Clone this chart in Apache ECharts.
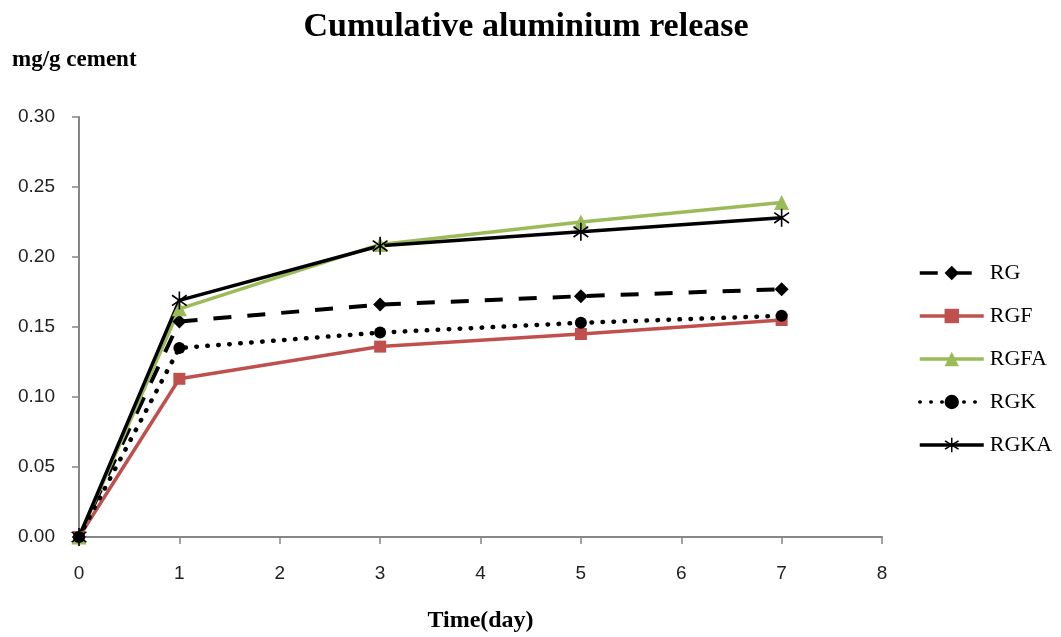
<!DOCTYPE html>
<html>
<head>
<meta charset="utf-8">
<style>
  html, body { margin: 0; padding: 0; background: #fff; }
  #chart { width: 1061px; height: 637px; }
</style>
<script src="https://cdn.jsdelivr.net/npm/echarts@6/dist/echarts.min.js"></script>
</head>
<body>
<div id="chart"></div>
<script>
// Sampling days and cumulative aluminium release (mg/g cement) per mix
const days = [0, 1, 3, 5, 7];
const RG   = [0, 0.154, 0.166, 0.172, 0.177];
const RGF  = [0, 0.113, 0.136, 0.145, 0.155];
const RGFA = [0, 0.163, 0.209, 0.225, 0.239];
const RGK  = [0, 0.135, 0.146, 0.153, 0.158];
const RGKA = [0, 0.169, 0.208, 0.218, 0.228];
const xTicks = [0, 1, 2, 3, 4, 5, 6, 7, 8];
const yTicks = [0, 0.05, 0.10, 0.15, 0.20, 0.25, 0.30];

// Six-armed asterisk built from three thin bars
const asterisk = 'path://M-0.9,-10L0.9,-10L0.9,10L-0.9,10Z' +
  'M7.67,-6.48L8.71,-5L-7.67,6.48L-8.71,5Z' +
  'M8.71,5L7.67,6.48L-8.71,-5L-7.67,-6.48Z';

const pairs = ys => days.map((d, i) => [d, ys[i]]);
const serif = 'Liberation Serif';
const sans = 'Liberation Sans';

const seriesDefs = [
  { name: 'RG',   data: RG,   color: '#000000', symbol: 'diamond',  size: 14, line: { type: [18, 16], width: 4 } },
  { name: 'RGF',  data: RGF,  color: '#C0504D', symbol: 'rect',     size: 12, line: { type: 'solid', width: 3.5 } },
  { name: 'RGFA', data: RGFA, color: '#9BBB59', symbol: 'triangle', size: 15, line: { type: 'solid', width: 3.5 } },
  { name: 'RGK',  data: RGK,  color: '#000000', symbol: 'circle',   size: 12, line: { type: [0.5, 10.5], width: 4.5, cap: 'round' } },
  { name: 'RGKA', data: RGKA, color: '#000000', symbol: asterisk,   size: 18, line: { type: 'solid', width: 3.5 } }
];

const chart = echarts.init(document.getElementById('chart'), null, { renderer: 'canvas' });

chart.setOption({
  animation: false,
  backgroundColor: '#ffffff',
  title: {
    text: 'Cumulative aluminium release',
    left: 521,
    textAlign: 'center',
    top: 5,
    textStyle: { fontFamily: serif, fontWeight: 'bold', fontSize: 34, color: '#000' }
  },
  graphic: [{
    type: 'text',
    left: 12,
    top: 49,
    style: { text: 'mg/g cement', fontFamily: serif, fontWeight: 'bold', fontSize: 23, fill: '#000' }
  }],
  legend: {
    orient: 'vertical',
    left: 913,
    top: 257,
    itemWidth: 64,
    itemHeight: 18,
    itemGap: 21,
    lineStyle: { width: 3.5 },
    textStyle: { fontFamily: serif, fontSize: 22, color: '#000', padding: [0, 0, 0, 1] },
    data: seriesDefs.map(s => s.name)
  },
  grid: { left: 79, right: 179, top: 117, bottom: 100, containLabel: false, outerBoundsMode: 'none' },
  xAxis: {
    type: 'value',
    min: xTicks[0],
    max: xTicks[xTicks.length - 1],
    interval: 1,
    name: 'Time(day)',
    nameLocation: 'middle',
    nameGap: 72,
    nameTextStyle: { fontFamily: serif, fontWeight: 'bold', fontSize: 24, color: '#000' },
    axisLine: { lineStyle: { color: '#868686', width: 2 } },
    axisTick: { show: true, inside: false, length: 7, lineStyle: { color: '#868686', width: 1.5 } },
    axisLabel: { fontFamily: sans, fontSize: 19, color: '#222', margin: 27 },
    splitLine: { show: false }
  },
  yAxis: {
    type: 'value',
    min: yTicks[0],
    max: yTicks[yTicks.length - 1],
    interval: 0.05,
    axisLine: { show: true, lineStyle: { color: '#868686', width: 2 } },
    axisTick: { show: true, inside: false, length: 7, lineStyle: { color: '#868686', width: 1.5 } },
    axisLabel: { fontFamily: sans, fontSize: 19, color: '#222', margin: 24, formatter: v => v.toFixed(2) },
    splitLine: { show: false }
  },
  series: seriesDefs.map(s => ({
    name: s.name,
    type: 'line',
    data: pairs(s.data),
    symbol: s.symbol,
    symbolSize: s.size,
    symbolKeepAspect: true,
    showSymbol: true,
    color: s.color,
    itemStyle: { color: s.color },
    lineStyle: Object.assign({ color: s.color }, s.line),
    clip: false,
    z: 2
  }))
});
</script>
</body>
</html>
